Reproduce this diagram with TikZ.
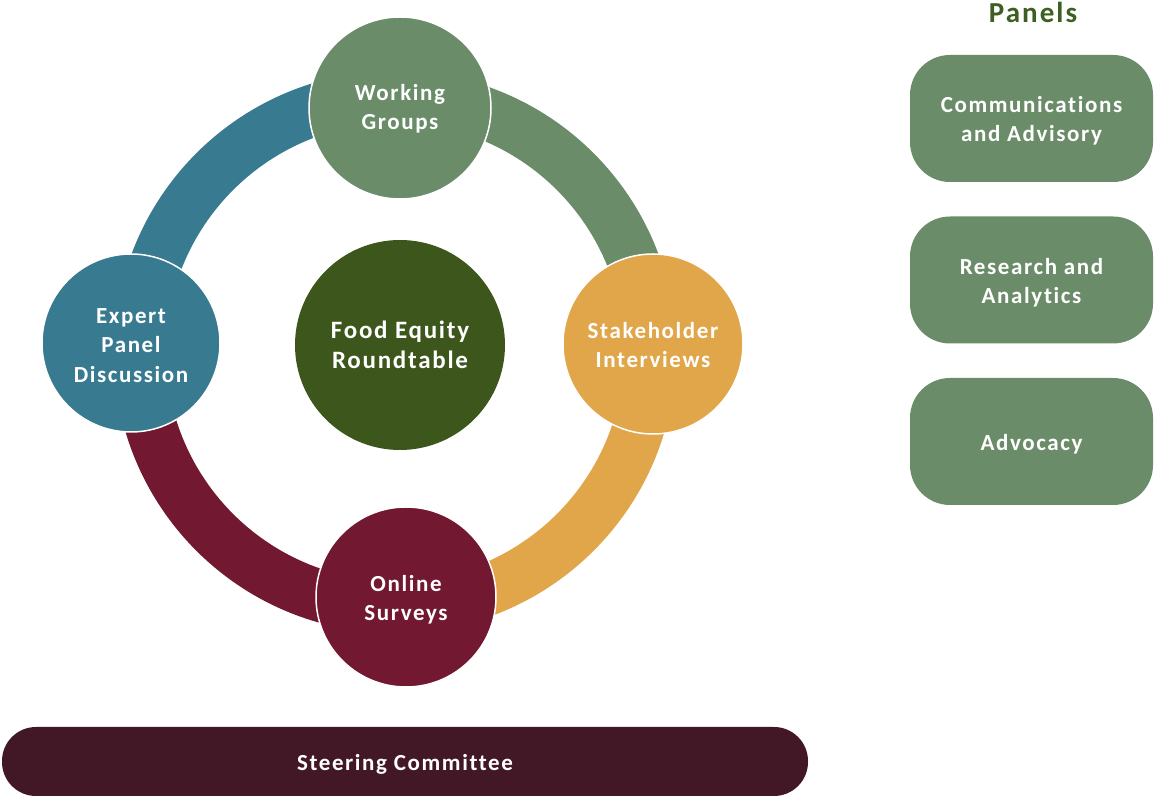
\documentclass[tikz,border=0pt]{standalone}
\usepackage{fontspec}
\setmainfont{Carlito}[LetterSpace=7, Ligatures=NoCommon]
\definecolor{cteal}{HTML}{387A90}
\definecolor{cgreen}{HTML}{6B8C69}
\definecolor{corange}{HTML}{E2A64A}
\definecolor{cmaroon}{HTML}{721830}
\definecolor{cdark}{HTML}{3D561C}
\definecolor{csteer}{HTML}{431826}
\definecolor{ctitle}{HTML}{3F5F22}
\tikzset{
  ringarc/.style={line width=52pt},
  hub/.style={circle, draw=white, line width=1.5pt, minimum size=#1, inner sep=0pt},
  lbl/.style={text=white, align=center, inner sep=0pt, font=\bfseries\fontsize{23}{29.5}\selectfont},
  panelbox/.style={rectangle, rounded corners=40pt, fill=cgreen, minimum width=243pt, minimum height=127pt, inner sep=0pt},
}
\begin{document}
\begin{tikzpicture}[x=1pt,y=1pt]
\fill[white] (0,0) rectangle (1154,797);
\useasboundingbox (0,0) rectangle (1154,797);
\coordinate (ring) at (395,445);
% ring arcs
\draw[ringarc, cteal] ([shift={(90:255)}]ring) arc (90:180:255);
\draw[ringarc, cgreen] ([shift={(0:255)}]ring) arc (0:90:255);
\draw[ringarc, corange] ([shift={(-90:255)}]ring) arc (-90:0:255);
\draw[ringarc, cmaroon] ([shift={(180:255)}]ring) arc (180:270:255);
% circles
\node[hub=182pt, fill=cgreen] (wg) at (400,689) {};
\node[hub=178pt, fill=cteal] (ex) at (131,454) {};
\node[hub=180pt, fill=corange] (st) at (653,453) {};
\node[hub=180pt, fill=cmaroon] (on) at (406,200) {};
\node[hub=210pt, fill=cdark, draw=none] (fe) at (400,452) {};
\node[lbl] (wgt) at ([yshift=-1pt]wg) {Working\\Groups};
\node[lbl] (ext) at ([yshift=-2.5pt]ex) {Expert\\Panel\\Discussion};
\node[lbl] (stt) at ([yshift=-1pt]st) {Stakeholder\\Interviews};
\node[lbl] (ont) at ([yshift=-2.5pt]on) {Online\\Surveys};
\node[lbl, font=\bfseries\fontsize{25}{29.5}\selectfont] (fet) at (fe) {Food Equity\\Roundtable};
% panels
\node[text=ctitle, font=\bfseries\fontsize{29}{32}\selectfont] (pt) at (1033,785) {Panels};
\node[panelbox] (p1) at (1031.5,678.5) {};
\node[panelbox] (p2) at (1031.5,517) {};
\node[panelbox] (p3) at (1031.5,355.5) {};
\node[lbl, font=\bfseries\fontsize{23}{29}\selectfont] (p1t) at ([yshift=-2.5pt]p1) {Communications\\and Advisory};
\node[lbl, font=\bfseries\fontsize{23}{29}\selectfont] (p2t) at ([yshift=-2.5pt]p2) {Research and\\Analytics};
\node[lbl, font=\bfseries\fontsize{23}{29}\selectfont] (p3t) at ([yshift=-2.5pt]p3) {Advocacy};
% steering committee
\node[rectangle, rounded corners=34pt, fill=csteer, minimum width=806pt, minimum height=69pt, inner sep=0pt] (sc) at (405,35.5) {};
\node[lbl, font=\bfseries\fontsize{23}{26}\selectfont] (sct) at ([yshift=-2.5pt]sc) {Steering Committee};
\end{tikzpicture}
\end{document}
